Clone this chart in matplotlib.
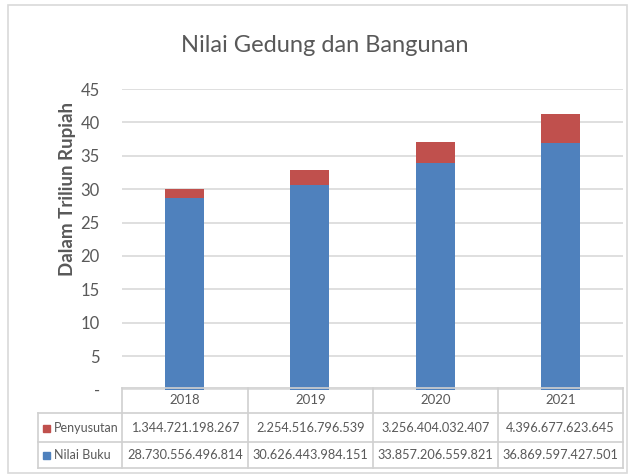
import matplotlib.pyplot as plt
from matplotlib.lines import Line2D
from matplotlib.patches import Rectangle

# data (Rupiah)
years = ['2018', '2019', '2020', '2021']
penyusutan = [1344721198267, 2254516796539, 3256404032407, 4396677623645]
nilai_buku = [28730556496814, 30626443984151, 33857206559821, 36869597427501]
penyusutan_txt = ['1.344.721.198.267', '2.254.516.796.539', '3.256.404.032.407', '4.396.677.623.645']
nilai_buku_txt = ['28.730.556.496.814', '30.626.443.984.151', '33.857.206.559.821', '36.869.597.427.501']
y_ticks = [0, 5, 10, 15, 20, 25, 30, 35, 40, 45]
y_ticklabels = ['-', '5', '10', '15', '20', '25', '30', '35', '40', '45']

blue = '#4F81BD'
red = '#C0504D'
grey_txt = '#595959'
grid_c = '#D9D9D9'

plt.rcParams['font.family'] = ['Lato', 'DejaVu Sans']

W, H = 630, 474
fig = plt.figure(figsize=(W / 100, H / 100), dpi=100)

def fx(px):
    return px / W

def fy(py):
    return 1 - py / H

# plot area in pixels
x0, x1 = 122, 623
y_top, y_zero = 89, 389.5
ax = fig.add_axes([fx(x0), fy(y_zero), fx(x1 - x0), (y_zero - y_top) / H])

pos = range(len(years))
nb = [v / 1e12 for v in nilai_buku]
py_ = [v / 1e12 for v in penyusutan]
ax.bar(pos, nb, width=0.31, color=blue, zorder=3)
ax.bar(pos, py_, width=0.31, bottom=nb, color=red, zorder=3)

ax.set_xlim(-0.5, len(years) - 0.5)
ax.set_ylim(0, 45)
ax.set_yticks(y_ticks)
ax.set_yticklabels(y_ticklabels, fontsize=12, color=grey_txt)
ax.set_xticks([])
ax.tick_params(axis='y', length=0, pad=16)
ax.grid(axis='y', color=grid_c, linewidth=1.2, zorder=0)
for s in ax.spines.values():
    s.set_visible(False)

fig.text(fx(68), fy(189), 'Dalam Triliun Rupiah', fontsize=13.5, color=grey_txt, fontweight='bold',
         rotation=90, ha='center', va='center')

fig.text(fx(325), fy(45), 'Nilai Gedung dan Bangunan', fontsize=17, color=grey_txt,
         ha='center', va='center')

# data table
row_y = [388, 413, 442, 468]
col_x = [38, 122, 248, 373, 498, 623]
lc = '#D0D0D0'
def hline(xa, xb, yy):
    fig.add_artist(Line2D([fx(xa), fx(xb)], [fy(yy), fy(yy)], color=lc, lw=1.2))
def vline(xx, ya, yb):
    fig.add_artist(Line2D([fx(xx), fx(xx)], [fy(ya), fy(yb)], color=lc, lw=1.2))

hline(col_x[1], col_x[-1], row_y[0])
for yy in row_y[1:]:
    hline(col_x[0], col_x[-1], yy)
vline(col_x[0], row_y[1], row_y[3])
for xx in col_x[1:]:
    vline(xx, row_y[0], row_y[3])

for i, yr in enumerate(years):
    cx = (col_x[i + 1] + col_x[i + 2]) / 2
    fig.text(fx(cx), fy((row_y[0] + row_y[1]) / 2), yr, fontsize=9.5, color=grey_txt, ha='center', va='center')
    fig.text(fx(cx), fy((row_y[1] + row_y[2]) / 2), penyusutan_txt[i], fontsize=9.2, color=grey_txt, ha='center', va='center')
    fig.text(fx(cx), fy((row_y[2] + row_y[3]) / 2), nilai_buku_txt[i], fontsize=9.2, color=grey_txt, ha='center', va='center')

for label, c, r in [('Penyusutan', red, 1), ('Nilai Buku', blue, 2)]:
    yc = (row_y[r] + row_y[r + 1]) / 2
    fig.add_artist(Rectangle((fx(43), fy(yc + 4)), fx(7), 7 / H, color=c, transform=fig.transFigure))
    fig.text(fx(54), fy(yc), label, fontsize=9, color=grey_txt, ha='left', va='center')

# outer chart border
fig.add_artist(Rectangle((fx(8), fy(473)), fx(619), 468 / H, fill=False, edgecolor='#D9D9D9',
                         lw=1.2, transform=fig.transFigure))

fig.savefig('out.png', dpi=100)
